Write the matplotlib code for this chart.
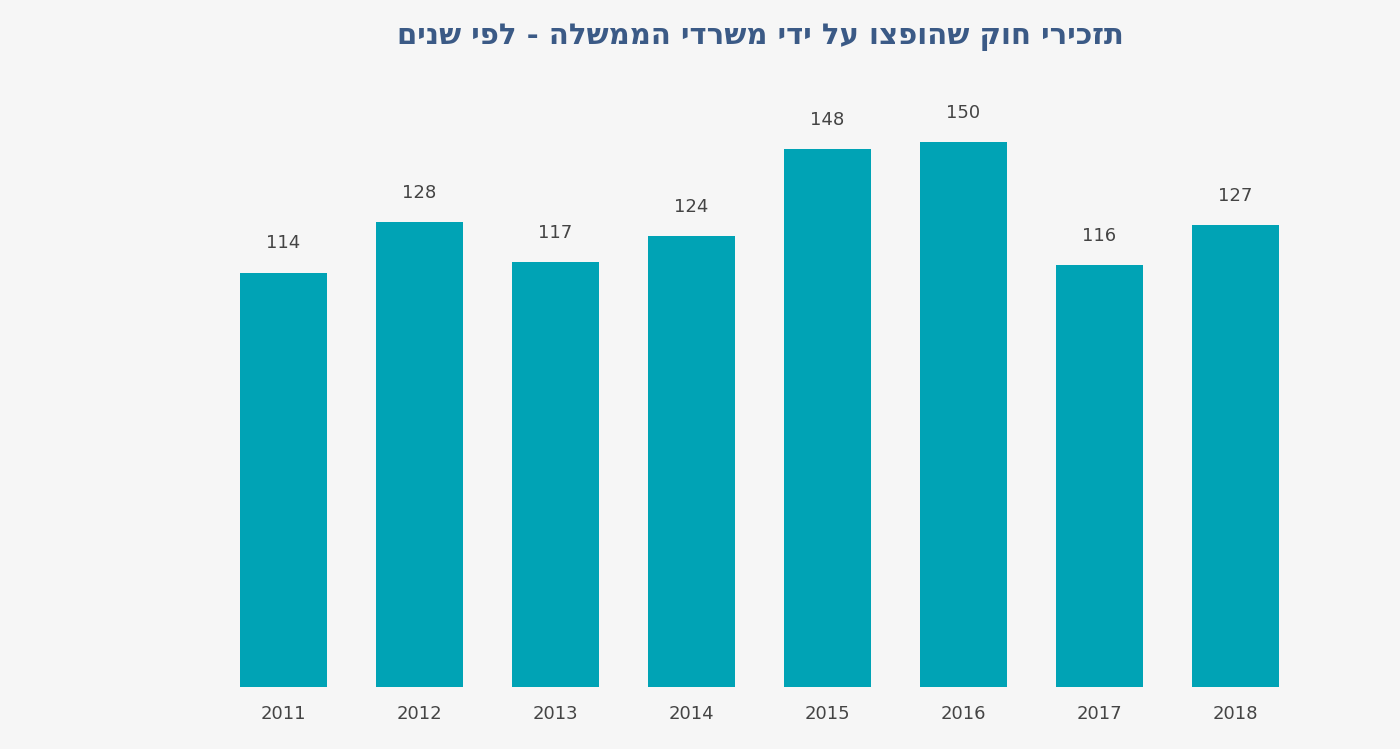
import matplotlib
matplotlib.use("Agg")
import matplotlib.pyplot as plt

years = ["2011", "2012", "2013", "2014", "2015", "2016", "2017", "2018"]
values = [114, 128, 117, 124, 148, 150, 116, 127]
title = "תזכירי חוק שהופצו על ידי משרדי הממשלה - לפי שנים"

bg = "#f6f6f6"
bar_color = "#00a3b5"
text_color = "#444444"

fig = plt.figure(figsize=(14, 7.49), dpi=100, facecolor=bg)
ax = fig.add_axes([0.154, 0.0828, 0.777, 0.7765], facecolor=bg)

x = list(range(len(years)))
bars = ax.bar(x, values, width=0.645, color=bar_color)
ax.set_xlim(-0.5, len(years) - 0.5)
ax.set_ylim(0, 160)

for xi, v in zip(x, values):
    ax.annotate(str(v), (xi, v), xytext=(0, 21), textcoords="offset points",
                ha="center", va="center", fontsize=13, color=text_color,
                family=["DejaVu Sans"])

ax.set_xticks(x)
ax.set_xticklabels(years, fontsize=13, color=text_color)
ax.tick_params(axis="x", length=0, pad=13)
ax.set_yticks([])
for s in ax.spines.values():
    s.set_visible(False)

# matplotlib has no bidi support: display Hebrew in visual order
fig.text(0.543, 0.951, title[::-1], ha="center", va="center", fontsize=21,
         fontweight="bold", color="#3b5a86", family=["DejaVu Sans"])

fig.savefig("out.png", dpi=100, facecolor=bg)
